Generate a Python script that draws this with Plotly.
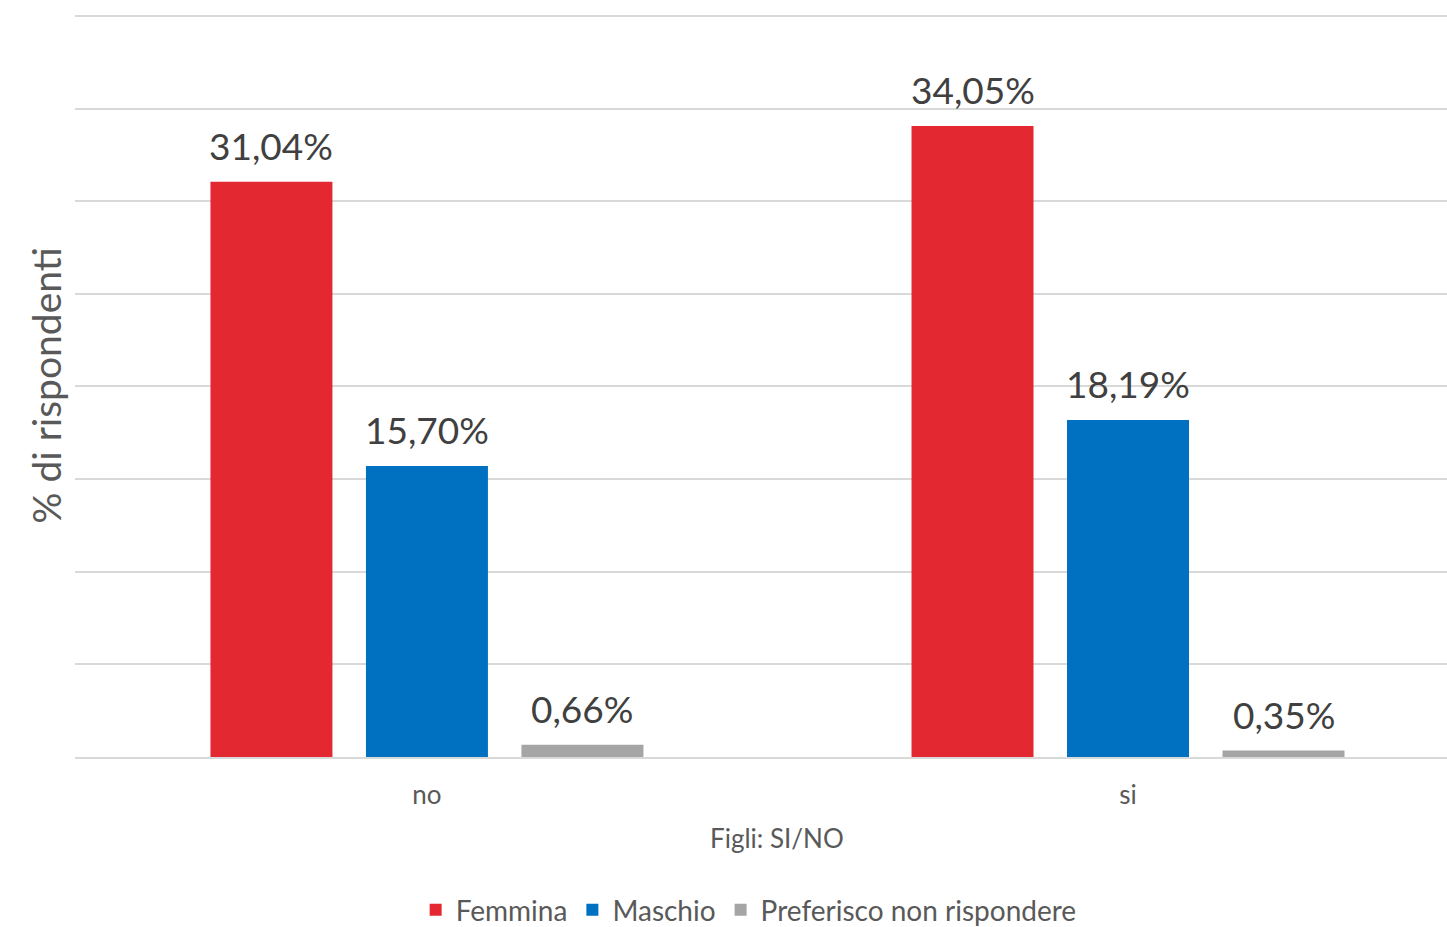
import plotly.graph_objects as go

categories = ["no", "si"]
femmina = [31.04, 34.05]
maschio = [15.70, 18.19]
preferisco = [0.66, 0.35]

series = [
    ("Femmina", femmina, "#E32832"),
    ("Maschio", maschio, "#0070C0"),
    ("Preferisco non rispondere", preferisco, "#A5A5A5"),
]

FONT = "Lato, 'Open Sans', sans-serif"
SLOT = 0.2218      # horizontal space per bar inside a category (category units)
BAR_W = 0.174      # bar width (category units)

fig = go.Figure()
annotations = []
for i, (name, vals, color) in enumerate(series):
    off = (i - 1) * SLOT
    fig.add_trace(go.Bar(
        name=name,
        x=categories,
        y=vals,
        width=BAR_W,
        offset=off - BAR_W / 2,
        marker=dict(color=color, line=dict(width=0)),
        cliponaxis=False,
    ))
    for c, v in enumerate(vals):
        annotations.append(dict(
            x=c + off, y=v, xref="x", yref="y",
            text=f"{v:.2f}%".replace(".", ","),
            showarrow=False,
            xanchor="center", yanchor="bottom",
            yshift=12,
            font=dict(size=37, color="#404040", family=FONT),
        ))

# x-axis title, centred on the full category span
annotations.append(dict(
    x=0.5, y=-0.109, xref="x", yref="paper",
    text="Figli: SI/NO", showarrow=False,
    xanchor="center", yanchor="middle",
    font=dict(size=26, color="#595959", family=FONT),
))

fig.update_layout(
    width=1447,
    height=927,
    barmode="overlay",
    plot_bgcolor="white",
    paper_bgcolor="white",
    font=dict(family=FONT, color="#595959"),
    margin=dict(l=75, r=0, t=14, b=170, autoexpand=False),
    annotations=annotations,
    xaxis=dict(
        range=[-0.502, 1.455],
        showline=True,
        linecolor="#D9D9D9",
        linewidth=1.5,
        tickfont=dict(size=26, color="#595959"),
        ticklabelstandoff=14,
    ),
    yaxis=dict(
        range=[0, 40.1],
        dtick=5,
        showticklabels=False,
        gridcolor="#D9D9D9",
        gridwidth=1.5,
        zeroline=False,
        title=dict(text="% di rispondenti", font=dict(size=39, color="#595959"), standoff=0),
    ),
    legend=dict(
        orientation="h",
        x=0.491,
        xanchor="center",
        y=-0.206,
        yanchor="middle",
        font=dict(size=28, color="#595959"),
        itemclick=False,
    ),
)

fig.write_html("out.html")
